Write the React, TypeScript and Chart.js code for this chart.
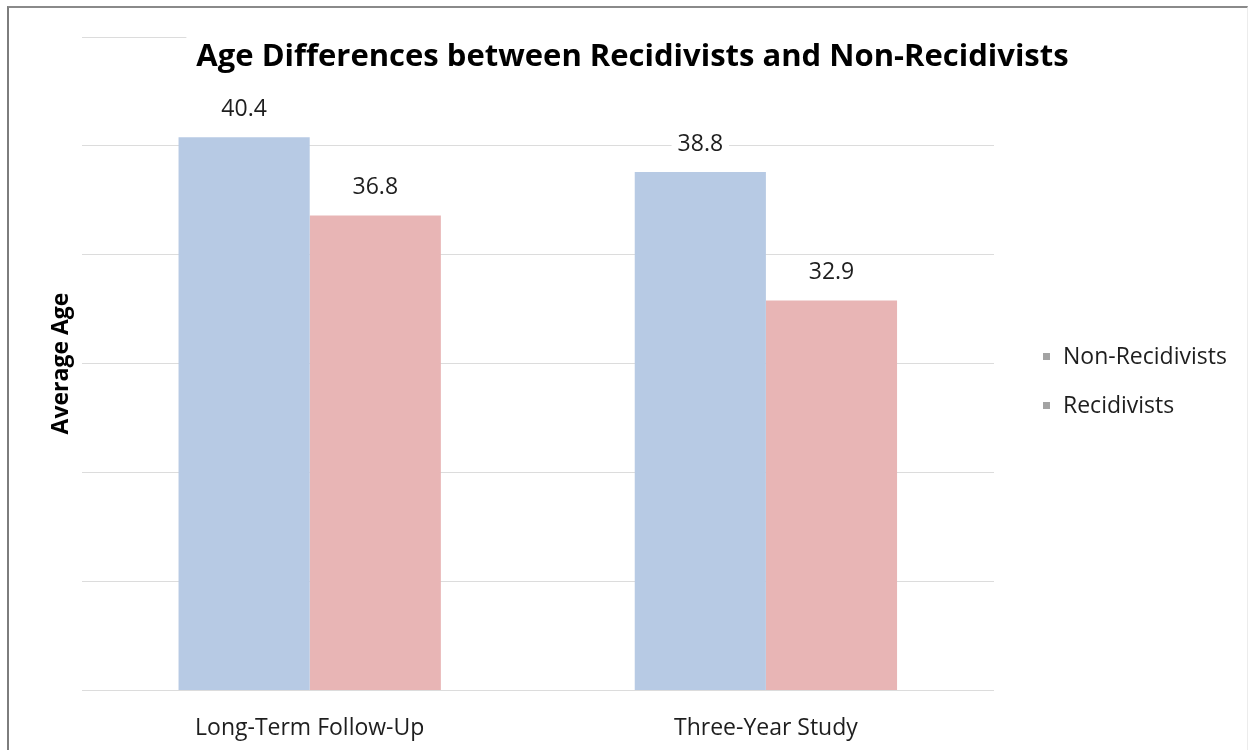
import React, { useEffect, useRef } from "react";
import { Chart, registerables } from "chart.js";

Chart.register(...registerables);

const categories = ["Long-Term Follow-Up", "Three-Year Study"];
const seriesNames = ["Non-Recidivists", "Recidivists"];
const nonRecidivists = [40.4, 38.8];
const recidivists = [36.8, 32.9];
const seriesColors = ["#b7cae4", "#e8b5b5"];
const yMin = 15;
const yMax = 45;
const yStep = 5;
const titleText = "Age Differences between Recidivists and Non-Recidivists";
const yTitleText = "Average Age";

const FONT = "'Open Sans', 'DejaVu Sans', sans-serif";

const decorPlugin = {
  id: "decor",
  afterDatasetsDraw(chart: any) {
    const ctx = chart.ctx as CanvasRenderingContext2D;
    ctx.save();
    // data labels
    ctx.font = `23px ${FONT}`;
    ctx.textAlign = "center";
    ctx.textBaseline = "middle";
    chart.data.datasets.forEach((ds: any, i: number) => {
      const meta = chart.getDatasetMeta(i);
      meta.data.forEach((bar: any, j: number) => {
        const txt = Number(ds.data[j]).toFixed(1);
        const w = ctx.measureText(txt).width;
        const y = bar.y - 28;
        ctx.fillStyle = "#ffffff";
        ctx.fillRect(bar.x - w / 2 - 6, y - 14, w + 12, 28);
        ctx.fillStyle = "#1e1e1e";
        ctx.fillText(txt, bar.x, y);
      });
    });
    ctx.restore();
  },
  afterDraw(chart: any) {
    const ctx = chart.ctx as CanvasRenderingContext2D;
    const area = chart.chartArea;
    ctx.save();
    // title
    ctx.font = `bold 31px ${FONT}`;
    ctx.textAlign = "center";
    ctx.textBaseline = "alphabetic";
    const tw = ctx.measureText(titleText).width;
    const tx = chart.width / 2 + 6;
    ctx.fillStyle = "#ffffff";
    ctx.fillRect(tx - tw / 2 - 10, 22, tw + 20, 58);
    ctx.fillStyle = "#000000";
    ctx.fillText(titleText, tx, 66);

    // legend
    ctx.font = `23px ${FONT}`;
    ctx.textAlign = "left";
    ctx.textBaseline = "middle";
    const midY = (area.top + area.bottom) / 2 + 18;
    seriesNames.forEach((name, i) => {
      const y = midY + (i - 0.5) * 49;
      const bx = area.right + 49;
      ctx.fillStyle = "#a3a3a3";
      ctx.fillRect(bx, y - 4, 7, 7);
      ctx.fillStyle = "#1e1e1e";
      ctx.fillText(name, bx + 20, y);
    });
    ctx.restore();
  },
};

export default function App() {
  const canvasRef = useRef<HTMLCanvasElement | null>(null);

  useEffect(() => {
    document.body.style.margin = "0";
    const canvas = canvasRef.current;
    if (!canvas) return;
    const chart = new Chart(canvas, {
      type: "bar",
      data: {
        labels: categories,
        datasets: [
          {
            label: seriesNames[0],
            data: nonRecidivists,
            backgroundColor: seriesColors[0],
            borderWidth: 0,
          },
          {
            label: seriesNames[1],
            data: recidivists,
            backgroundColor: seriesColors[1],
            borderWidth: 0,
          },
        ],
      },
      options: {
        animation: false,
        responsive: false,
        devicePixelRatio: 1,
        layout: {
          padding: { top: 37, left: 40, right: 259, bottom: 0 },
        },
        plugins: {
          legend: { display: false },
          title: { display: false },
          tooltip: { enabled: false },
        },
        datasets: {
          bar: {
            categoryPercentage: 0.575,
            barPercentage: 1.0,
          },
        },
        scales: {
          x: {
            grid: { display: false, drawTicks: false },
            border: { display: false },
            ticks: {
              padding: 25,
              color: "#1e1e1e",
              font: { family: FONT, size: 23 },
            },
            afterFit: (scale: any) => {
              scale.height = 60;
            },
          },
          y: {
            min: yMin,
            max: yMax,
            grid: { color: "#dcdcdc", lineWidth: 1, drawTicks: false },
            border: { display: false },
            ticks: { display: false, stepSize: yStep },
            title: {
              display: true,
              text: yTitleText,
              color: "#000000",
              font: { family: FONT, size: 23, weight: "bold" },
              padding: { top: 8, bottom: 6 },
            },
          },
        },
      },
      plugins: [decorPlugin],
    });
    return () => chart.destroy();
  }, []);

  return (
    <div style={{ position: "relative", width: 1253, height: 750, background: "#ffffff" }}>
      <canvas ref={canvasRef} width={1253} height={750} style={{ display: "block" }} />
      <div
        style={{
          position: "absolute",
          left: 7,
          top: 6,
          width: 1238,
          height: 744,
          borderLeft: "2px solid #7d7d7d",
          borderTop: "2px solid #8a8a8a",
          borderRight: "1px solid #ececec",
          pointerEvents: "none",
        }}
      />
    </div>
  );
}
